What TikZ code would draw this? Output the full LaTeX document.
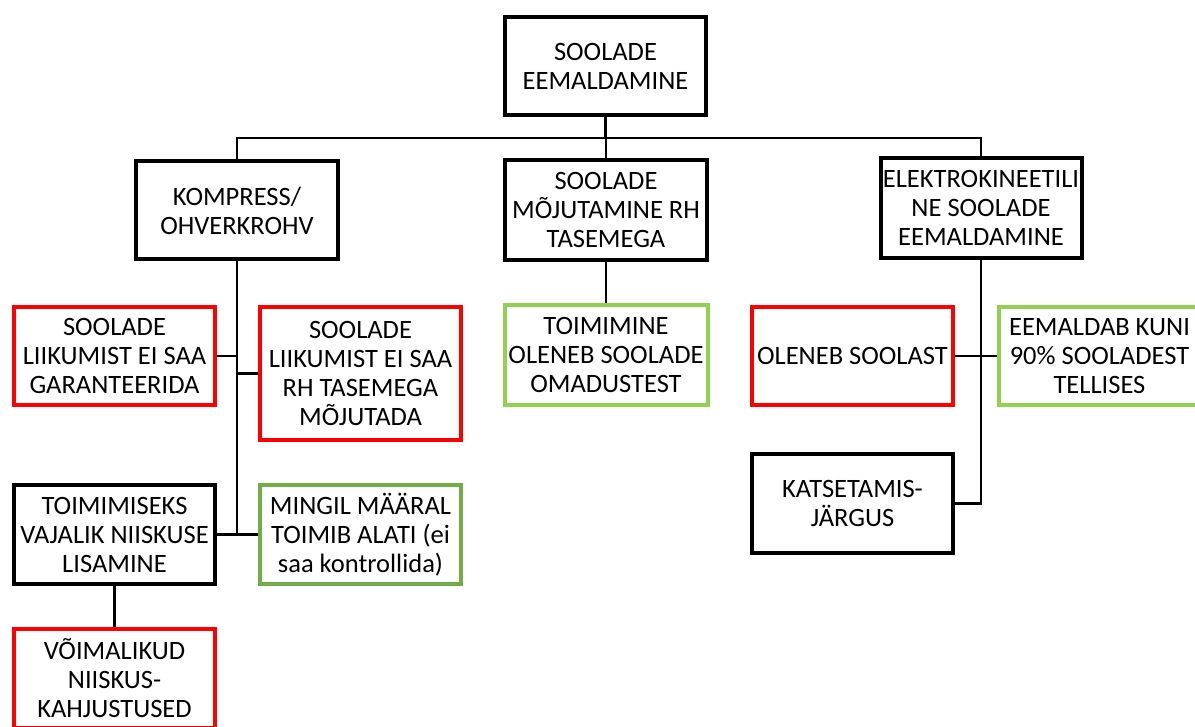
\documentclass[tikz,border=0pt]{standalone}
\usepackage{fontspec}
\setmainfont{Carlito}
\usetikzlibrary{backgrounds}
\definecolor{rd}{HTML}{FF0000}
\definecolor{gl}{HTML}{92D050}
\definecolor{gd}{HTML}{70AD47}
\begin{document}
\begin{tikzpicture}[x=1pt,y=-1pt,
  box/.style={draw=black, line width=4pt, inner sep=0pt, align=center, fill=white,
    font=\fontsize{26.5}{29}\selectfont, minimum width=201pt, minimum height=98pt},
  redbox/.style={box, draw=rd},
  greenbox/.style={box, draw=gl},
  darkgreenbox/.style={box, draw=gd},
  conn/.style={draw=black, line width=2.5pt}]
\useasboundingbox (0,0) rectangle (1195,727);
\clip (0,0) rectangle (1195,727);
\node[box] (root) at (605.5,66) {SOOLADE\\EEMALDAMINE};
\node[box, minimum width=202pt] (komp) at (237,210.5) {KOMPRESS/\\OHVERKROHV};
\node[box, minimum width=202pt, minimum height=100pt] (moju) at (606,210) {SOOLADE\\MÕJUTAMINE RH\\TASEMEGA};
\node[box, minimum height=100pt] (elek) at (981,208) {ELEKTROKINEETILI\\NE SOOLADE\\EEMALDAMINE};
\node[redbox] (red1) at (114.5,356) {SOOLADE\\LIIKUMIST EI SAA\\GARANTEERIDA};
\node[redbox, minimum height=133pt] (red2) at (360.5,373.5) {SOOLADE\\LIIKUMIST EI SAA\\RH TASEMEGA\\MÕJUTADA};
\node[box, minimum height=99pt] (toim) at (114.5,534.5) {TOIMIMISEKS\\VAJALIK NIISKUSE\\LISAMINE};
\node[darkgreenbox, minimum height=99pt] (ming) at (360.5,534.5) {MINGIL MÄÄRAL\\TOIMIB ALATI (ei\\saa kontrollida)};
\node[redbox, minimum height=99pt] (voim) at (114.5,678.5) {VÕIMALIKUD\\NIISKUS-\\KAHJUSTUSED};
\node[greenbox, minimum width=203pt, minimum height=100pt] (grm) at (606,355) {TOIMIMINE\\OLENEB SOOLADE\\OMADUSTEST};
\node[redbox] (olen) at (852.5,356) {OLENEB SOOLAST};
\node[greenbox] (eeml) at (1099.5,356) {EEMALDAB KUNI\\90\% SOOLADEST\\TELLISES};
\node[box, minimum height=99pt] (kats) at (852.5,503.5) {KATSETAMIS-\\JÄRGUS};
\coordinate (bar) at (605.5,138);
\begin{pgfonlayer}{background}
\draw[conn] (root.south) -- (bar);
\draw[conn] (komp.north) |- (bar) -| (elek.north);
\draw[conn] (moju.north) -- (moju.north |- bar);
\draw[conn] (komp.south) -- (komp.south |- toim.east);
\draw[conn] (red1.east) -- (red1.east -| komp.south);
\draw[conn] (red2.west -| komp.south) -- (red2.west);
\draw[conn] (toim.east) -- (ming.west);
\draw[conn] (toim.south) -- (voim.north);
\draw[conn] (moju.south) -- (grm.north);
\draw[conn] (elek.south) |- (kats.east);
\draw[conn] (olen.east) -- (eeml.west);
\end{pgfonlayer}
\end{tikzpicture}
\end{document}
